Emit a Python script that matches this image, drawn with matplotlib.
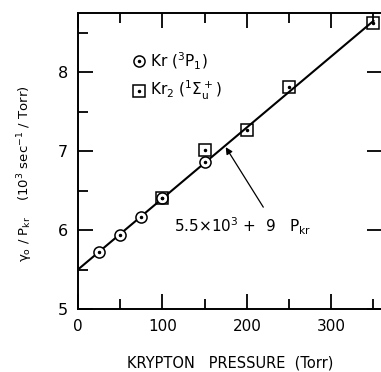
import matplotlib
matplotlib.use("Agg")
import matplotlib.pyplot as plt
from matplotlib.legend_handler import HandlerTuple
from matplotlib.ticker import MultipleLocator

plt.rcParams['font.family'] = ['DejaVu Sans']
plt.rcParams['mathtext.default'] = 'regular'

# Kr (3P1) points
kr_x = [25, 50, 75, 100, 150]
kr_y = [5.725, 5.94, 6.17, 6.40, 6.86]

# Kr2 (1Sigma_u+) points
kr2_x = [100, 150, 200, 250, 350]
kr2_y = [6.40, 7.01, 7.27, 7.81, 8.62]

# fitted line 5.5e3 + 9 P
fit_x = [0, 350]
fit_y = [5.5, 8.65]

xticks = [0, 100, 200, 300]
yticks = [5, 6, 7, 8]

fig = plt.figure(figsize=(3.81, 3.72), dpi=100)
ax = fig.add_axes([0.2047, 0.1694, 0.7977, 0.7957])

ax.plot(fit_x, fit_y, color='black', lw=1.5, zorder=2)

ms = 8
c1 = ax.plot(kr_x, kr_y, 'o', ms=ms, mfc='white', mec='black', mew=1.1, zorder=3)[0]
d1 = ax.plot(kr_x, kr_y, '.', ms=3, color='black', zorder=4)[0]
s1 = ax.plot(kr2_x, kr2_y, 's', ms=ms, mfc='none', mec='black', mew=1.1, zorder=3)[0]
d2 = ax.plot(kr2_x, kr2_y, '.', ms=3, color='black', zorder=4)[0]

ax.legend([(c1, d1), (s1, d2)],
          [r"Kr ($^3$P$_1$)", r"Kr$_2$ ($^1\Sigma_u^+$)"],
          handler_map={tuple: HandlerTuple(ndivide=1, pad=0)},
          loc='upper left', bbox_to_anchor=(0.133, 0.92), frameon=False,
          handlelength=0.9, handletextpad=0.3, labelspacing=0.5,
          fontsize=11)

# fit label and arrow
ax.text(114, 6.05, r"5.5$\times$10$^3$ +  9   P$_{kr}$", fontsize=11, va='center')
ax.annotate("", xy=(175, 7.05), xytext=(219.5, 6.29),
            arrowprops=dict(arrowstyle='-|>', color='black', lw=0.9,
                            shrinkA=0, shrinkB=0, mutation_scale=10))

ax.set_xlim(0, 360)
ax.set_ylim(5, 8.75)
ax.set_xticks(xticks)
ax.set_yticks(yticks)
ax.xaxis.set_minor_locator(MultipleLocator(50))
ax.yaxis.set_minor_locator(MultipleLocator(0.5))

ax.tick_params(which='both', direction='in', top=True, right=True, width=1.3)
ax.tick_params(which='major', length=11, pad=7)
ax.tick_params(which='minor', length=7)
ax.tick_params(axis='y', which='minor', right=False)
ax.tick_params(axis='x', labelsize=11)
ax.tick_params(axis='y', labelsize=11.5)

for sp in ax.spines.values():
    sp.set_linewidth(1.4)
ax.spines['right'].set_visible(False)

ax.set_xlabel("KRYPTON   PRESSURE  (Torr)", fontsize=10.5, labelpad=16)
ax.set_ylabel(r"$\gamma_o$ / P$_{kr}$    (10$^3$ sec$^{-1}$ / Torr)",
              fontsize=9.5)
ax.yaxis.set_label_coords(-0.142, 0.456)

fig.savefig("out.png", dpi=100)
